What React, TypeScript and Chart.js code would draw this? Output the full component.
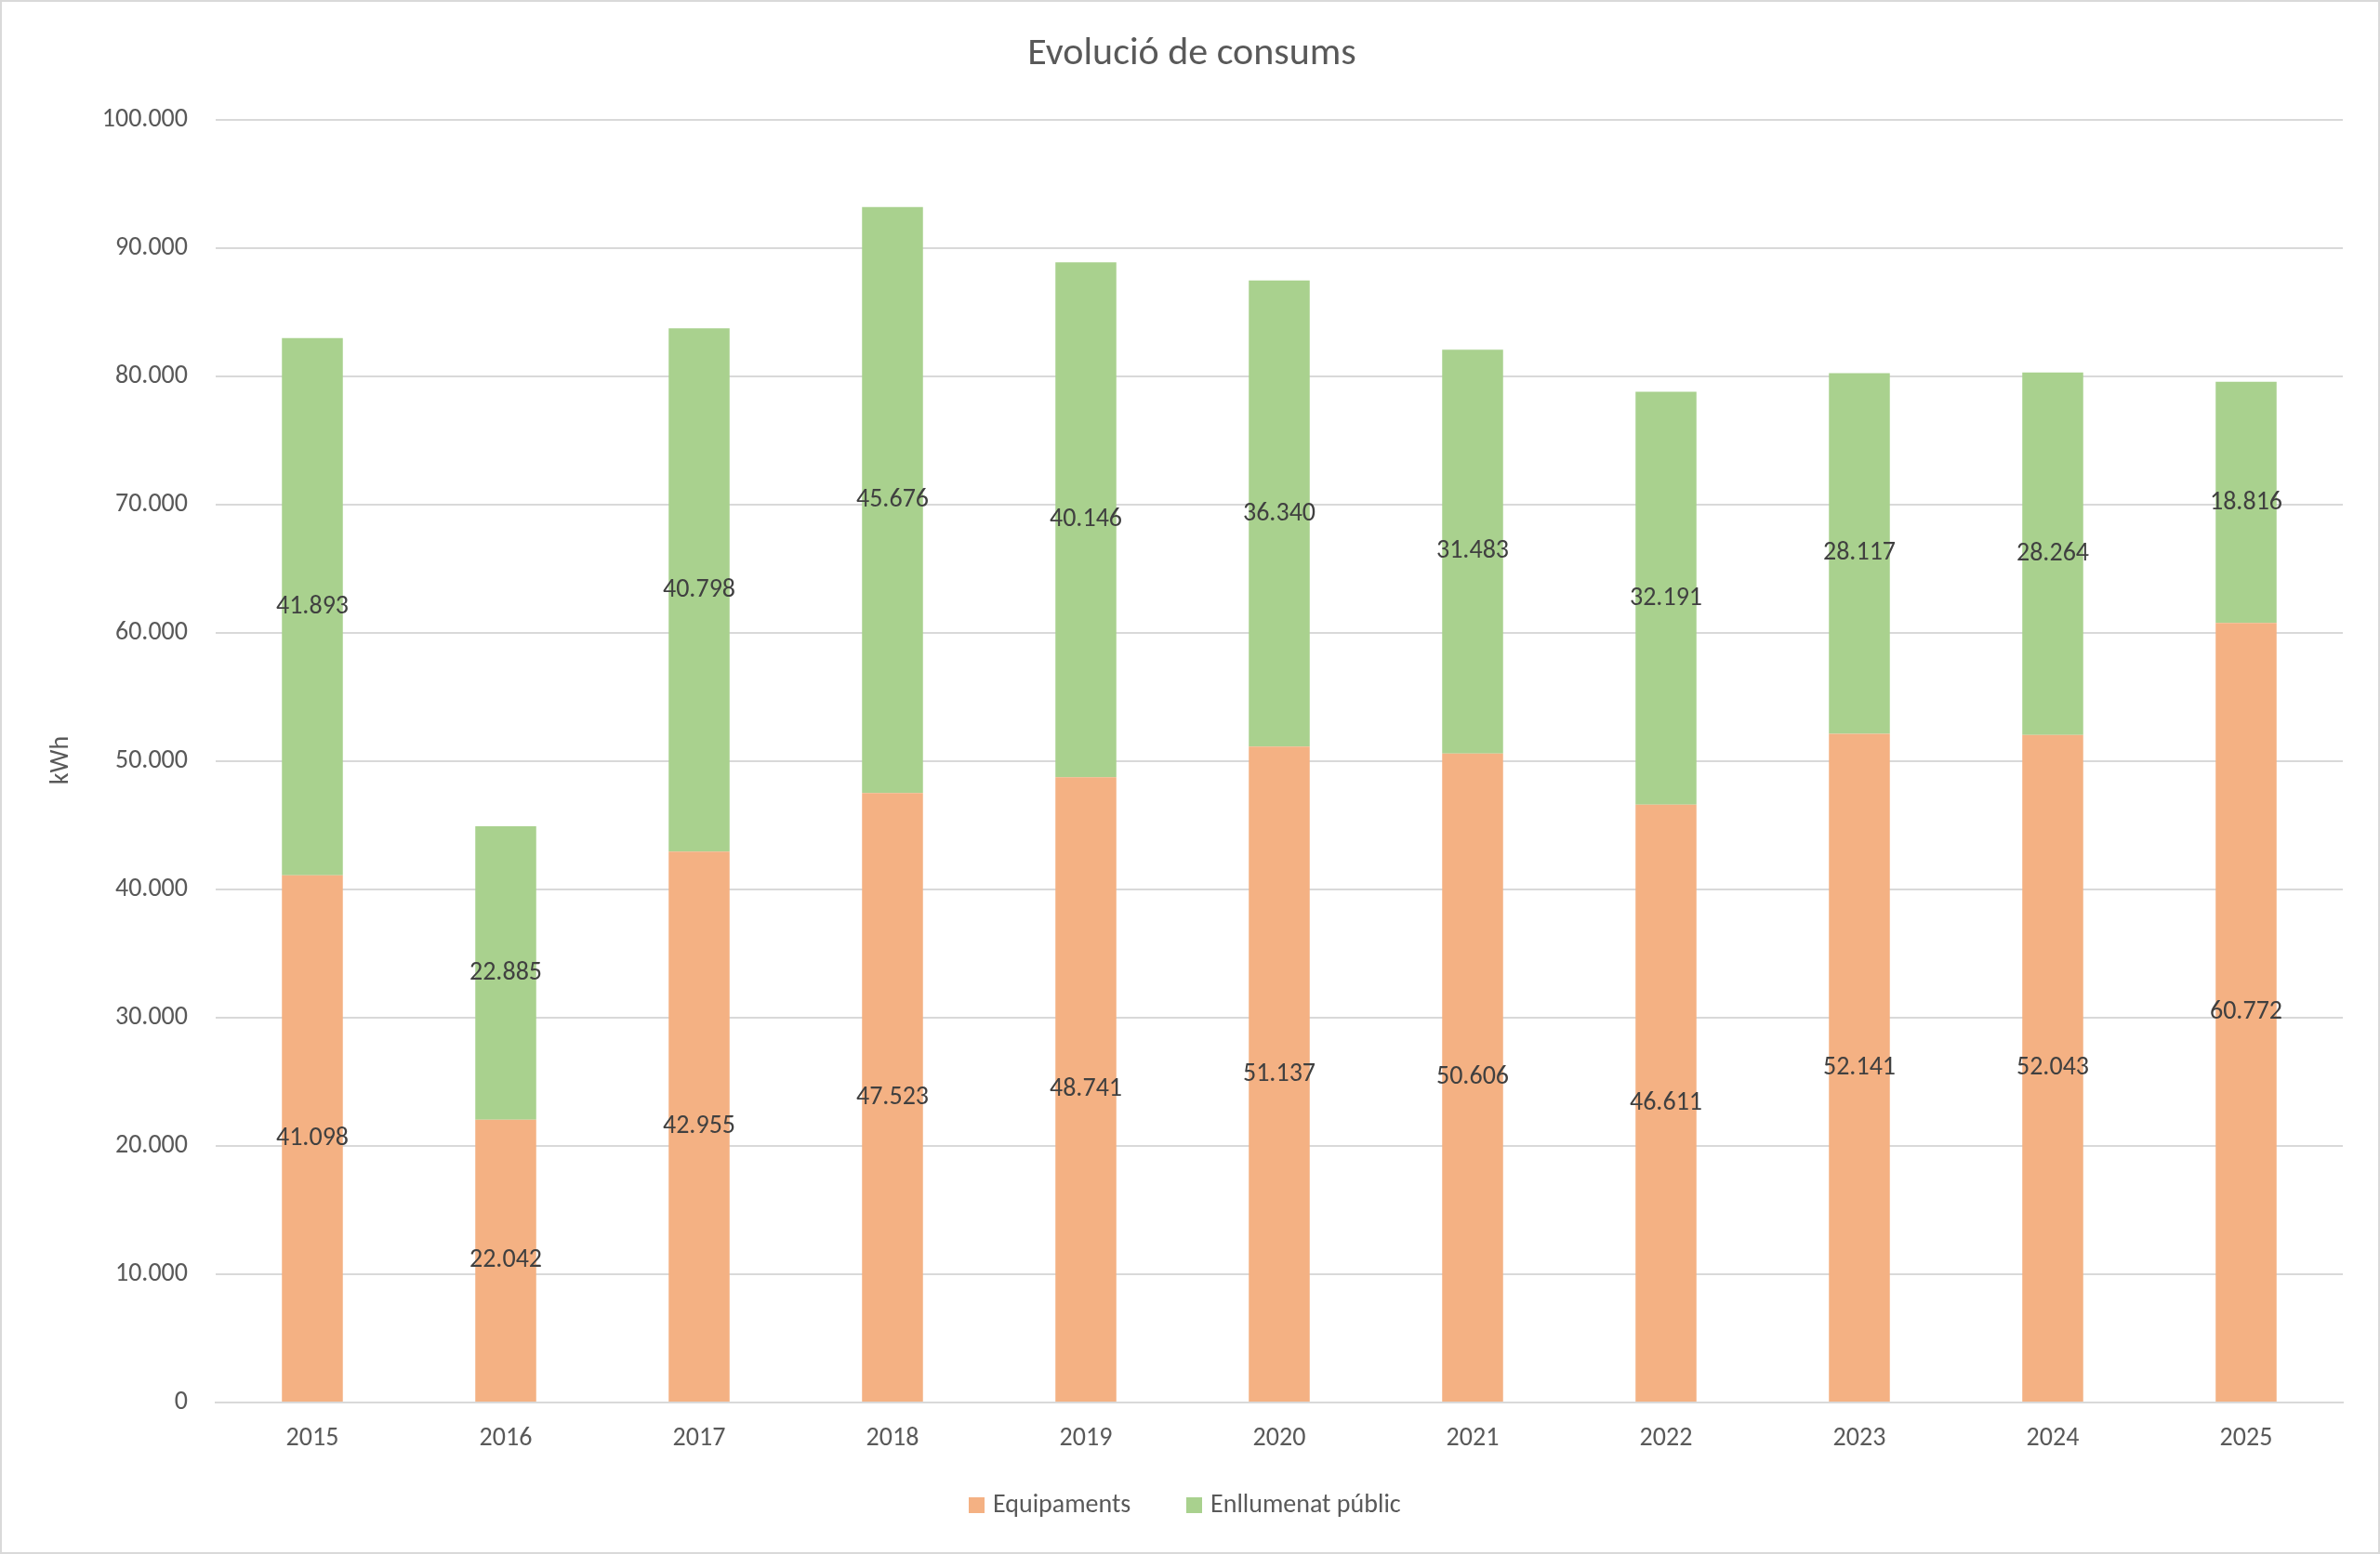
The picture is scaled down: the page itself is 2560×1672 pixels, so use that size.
import React, { useEffect, useRef } from "react";
import { Chart, registerables } from "chart.js";
Chart.register(...registerables);

const years = ["2015","2016","2017","2018","2019","2020","2021","2022","2023","2024","2025"];
const equipaments = [41098,22042,42955,47523,48741,51137,50606,46611,52141,52043,60772];
const enllumenat = [41893,22885,40798,45676,40146,36340,31483,32191,28117,28264,18816];
const seriesNames = ["Equipaments", "Enllumenat públic"];
const colors = ["#F4B183", "#A9D18E"];

const fmt = (v: number) => String(Math.round(v)).replace(/\B(?=(\d{3})+(?!\d))/g, ".");
const W = 2560, H = 1672;

const deco = {
  id: "deco",
  afterDatasetsDraw(chart: any) {
    const ctx = chart.ctx;
    ctx.save();
    ctx.font = "28px Calibri, Carlito, 'Open Sans', sans-serif";
    ctx.fillStyle = "#404040";
    ctx.textAlign = "center";
    ctx.textBaseline = "middle";
    chart.data.datasets.forEach((ds: any, i: number) => {
      chart.getDatasetMeta(i).data.forEach((bar: any, j: number) => {
        ctx.fillText(fmt(ds.data[j]), bar.x, (bar.y + bar.base) / 2);
      });
    });
    ctx.restore();
  },
  afterDraw(chart: any) {
    const ctx = chart.ctx;
    ctx.save();
    ctx.strokeStyle = "#D9D9D9";
    ctx.lineWidth = 2;
    ctx.strokeRect(1, 1, W - 2, H - 2);
    ctx.fillStyle = "#595959";
    ctx.textAlign = "center";
    ctx.textBaseline = "middle";
    ctx.font = "42px Calibri, Carlito, 'Open Sans', sans-serif";
    ctx.fillText("Evolució de consums", W / 2 + 2, 58);
    ctx.font = "28px Calibri, Carlito, 'Open Sans', sans-serif";
    ctx.save();
    ctx.translate(66, 818);
    ctx.rotate(-Math.PI / 2);
    ctx.fillText("kWh", 0, 0);
    ctx.restore();
    // legend
    ctx.textAlign = "left";
    const items = [[1042, 0], [1276, 1]];
    items.forEach(([x, i]) => {
      ctx.fillStyle = colors[i];
      ctx.fillRect(x, 1611, 17, 17);
      ctx.fillStyle = "#595959";
      ctx.fillText(seriesNames[i], x + 26, 1620);
    });
    ctx.restore();
  },
};

export default function App() {
  const ref = useRef<HTMLCanvasElement>(null);
  useEffect(() => {
    document.body.style.margin = "0";
    const chart = new Chart(ref.current!, {
      type: "bar",
      data: {
        labels: years,
        datasets: [
          { label: seriesNames[0], data: equipaments, backgroundColor: colors[0], barPercentage: 1, categoryPercentage: 0.315 },
          { label: seriesNames[1], data: enllumenat, backgroundColor: colors[1], barPercentage: 1, categoryPercentage: 0.315 },
        ],
      },
      options: {
        animation: false,
        responsive: false,
        devicePixelRatio: 1,
        layout: { padding: { top: 129, right: 40, bottom: 103, left: 0 } },
        plugins: { legend: { display: false }, title: { display: false }, tooltip: { enabled: false } },
        scales: {
          x: {
            stacked: true,
            grid: { display: false },
            border: { color: "#D9D9D9", width: 2 },
            ticks: { color: "#595959", font: { size: 28, family: "Calibri, Carlito, 'Open Sans', sans-serif" }, padding: 14 },
            afterFit: (s: any) => { s.height = 60; },
          },
          y: {
            stacked: true,
            min: 0, max: 100000,
            ticks: { stepSize: 10000, color: "#595959", padding: 30, font: { size: 28, family: "Calibri, Carlito, 'Open Sans', sans-serif" }, callback: (v: any) => fmt(Number(v)) },
            grid: { color: "#D9D9D9", lineWidth: 2, drawTicks: false },
            border: { display: false },
            afterFit: (s: any) => { s.width = 232; },
          },
        },
      },
      plugins: [deco],
    });
    return () => chart.destroy();
  }, []);
  return <canvas ref={ref} width={W} height={H} style={{ display: "block", width: W, height: H }} />;
}
